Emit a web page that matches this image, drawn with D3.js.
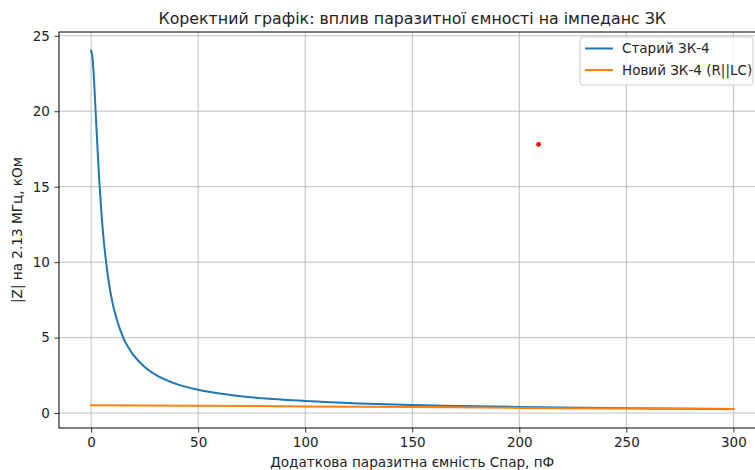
<!DOCTYPE html>
<html>
<head>
<meta charset="utf-8">
<script src="https://cdn.jsdelivr.net/npm/d3@7/dist/d3.min.js"></script>
<style>
  html, body { margin: 0; padding: 0; background: #fff; }
  svg { display: block; font-family: "DejaVu Sans", sans-serif; }
</style>
</head>
<body>
<svg id="chart" width="755" height="470"></svg>
<script>
// Extra parasitic capacitance, pF, and impedance magnitude at 2.13 MHz, kOhm
const oldCap = [0, 0.5, 1, 1.5, 2, 2.5, 3, 3.5, 4, 5, 6, 7, 8, 10, 12, 15, 20, 25, 30, 40, 50, 60, 70, 80, 100, 125, 150, 175, 200, 250, 300];
const oldZ   = [24.0, 23.7, 22.9, 21.7, 20.3, 18.9, 17.5, 16.2, 15.0, 12.9, 11.3, 10.0, 8.9, 7.3, 6.2, 5.0, 3.8, 3.05, 2.55, 1.92, 1.55, 1.30, 1.12, 0.98, 0.80, 0.64, 0.53, 0.46, 0.40, 0.32, 0.27];
const newCap = [0, 50, 100, 150, 200, 250, 300];
const newZ   = [0.52, 0.49, 0.44, 0.40, 0.34, 0.30, 0.265];
const markPoint = [209, 17.8];

const xTicks = [0, 50, 100, 150, 200, 250, 300];
const yTicks = [0, 5, 10, 15, 20, 25];

const seriesNames = ["Старий ЗК-4", "Новий ЗК-4 (R||LC)"];
const seriesColors = ["#1f77b4", "#ff7f0e"];

const titleText = "Коректний графік: вплив паразитної ємності на імпеданс ЗК";
const xLabel = "Додаткова паразитна ємність Спар, пФ";
const yLabel = "|Z| на 2.13 МГц, кОм";

const svg = d3.select("#chart");
const plot = { left: 59, right: 765.5, top: 32, bottom: 428 };

const x = d3.scaleLinear().domain([-15, 315]).range([plot.left, plot.right]);
const y = d3.scaleLinear().domain([-0.99, 25.25]).range([plot.bottom, plot.top]);

// grid
const grid = svg.append("g");
grid.selectAll("line.gx").data(xTicks).join("line")
  .attr("x1", d => x(d)).attr("x2", d => x(d))
  .attr("y1", plot.top).attr("y2", plot.bottom)
  .attr("stroke", "#b0b0b0").attr("stroke-width", 0.8);
grid.selectAll("line.gy").data(yTicks).join("line")
  .attr("x1", plot.left).attr("x2", plot.right)
  .attr("y1", d => y(d)).attr("y2", d => y(d))
  .attr("stroke", "#b0b0b0").attr("stroke-width", 0.8);

// series
const line = d3.line().x(d => x(d[0])).y(d => y(d[1])).curve(d3.curveMonotoneX);
const oldData = oldCap.map((c, i) => [c, oldZ[i]]);
const newData = newCap.map((c, i) => [c, newZ[i]]);

svg.append("path").datum(oldData)
  .attr("d", line).attr("fill", "none")
  .attr("stroke", seriesColors[0]).attr("stroke-width", 2)
  .attr("stroke-linecap", "square");
svg.append("path").datum(newData)
  .attr("d", line).attr("fill", "none")
  .attr("stroke", seriesColors[1]).attr("stroke-width", 2)
  .attr("stroke-linecap", "square");

svg.append("circle")
  .attr("cx", x(markPoint[0])).attr("cy", y(markPoint[1]))
  .attr("r", 2.4).attr("fill", "#ff0000");

// axes
const xAxis = d3.axisBottom(x).tickValues(xTicks).tickSize(4.6).tickPadding(4.5);
const yAxis = d3.axisLeft(y).tickValues(yTicks).tickSize(4.6).tickPadding(4.5);

const gx = svg.append("g").attr("transform", `translate(0,${plot.bottom})`).call(xAxis);
const gy = svg.append("g").attr("transform", `translate(${plot.left},0)`).call(yAxis);
[gx, gy].forEach(g => {
  g.select(".domain").remove();
  g.selectAll(".tick line").attr("stroke", "#000").attr("stroke-width", 0.8);
  g.selectAll(".tick text").attr("fill", "#222").style("font-size", "13.5px")
    .style("font-family", "DejaVu Sans, sans-serif");
});

// spines
svg.append("rect")
  .attr("x", plot.left).attr("y", plot.top)
  .attr("width", plot.right - plot.left).attr("height", plot.bottom - plot.top)
  .attr("fill", "none").attr("stroke", "#000").attr("stroke-width", 1);

// title and labels
svg.append("text").attr("x", (plot.left + plot.right) / 2).attr("y", 24)
  .attr("text-anchor", "middle").style("font-size", "15.8px").attr("fill", "#222")
  .text(titleText);
svg.append("text").attr("x", (plot.left + plot.right) / 2).attr("y", 467)
  .attr("text-anchor", "middle").style("font-size", "13.6px").attr("fill", "#222")
  .text(xLabel);
svg.append("text")
  .attr("transform", `translate(22,${(plot.top + plot.bottom) / 2}) rotate(-90)`)
  .attr("text-anchor", "middle").style("font-size", "13.6px").attr("fill", "#222")
  .text(yLabel);

// legend
const lg = svg.append("g").attr("transform", "translate(580,37)");
lg.append("rect").attr("x", 0).attr("y", 0).attr("width", 173).attr("height", 48)
  .attr("rx", 3).attr("fill", "#fff").attr("fill-opacity", 0.8)
  .attr("stroke", "#cccccc").attr("stroke-width", 1);
seriesNames.forEach((name, i) => {
  const cy = 11.5 + i * 21.5;
  lg.append("line").attr("x1", 5).attr("x2", 33).attr("y1", cy).attr("y2", cy)
    .attr("stroke", seriesColors[i]).attr("stroke-width", 2);
  lg.append("text").attr("x", 42).attr("y", cy + 4.7)
    .style("font-size", "13.5px").attr("fill", "#222").text(name);
});
</script>
</body>
</html>
